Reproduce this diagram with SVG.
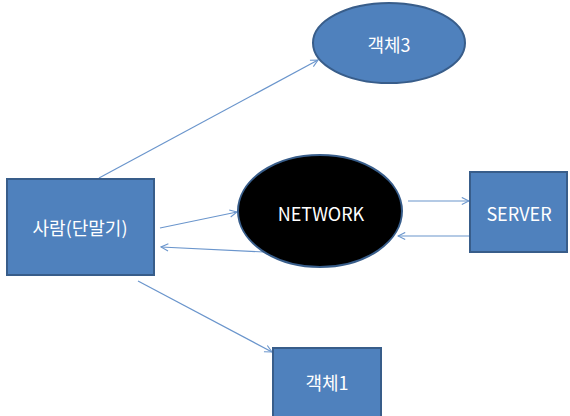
<svg xmlns="http://www.w3.org/2000/svg" width="570" height="416" viewBox="0 0 570 416">
<defs>
<style>
.shape{fill:#4F81BD;stroke:#385D8A;stroke-width:2}
.net{fill:#000000;stroke:#385D8A;stroke-width:2}
.lbl{fill:#FFFFFF;font-family:"Noto Sans CJK KR","Noto Sans",sans-serif;font-size:18px;text-anchor:middle;dominant-baseline:central}
.conn{stroke:#6A95CC;stroke-width:1.2;fill:none;marker-end:url(#arr)}
</style>
<marker id="arr" viewBox="0 0 10 10" refX="9" refY="5" markerWidth="9" markerHeight="9" markerUnits="userSpaceOnUse" orient="auto">
<path d="M1,1 L9,5 L1,9" fill="none" stroke="#6A95CC" stroke-width="1.2"/>
</marker>
</defs>
<rect width="570" height="416" fill="#FFFFFF"/>
<g id="connectors">
<line class="conn" x1="99" y1="178" x2="318" y2="60"/>
<line class="conn" x1="160" y1="228" x2="237" y2="212"/>
<line class="conn" x1="264" y1="252" x2="161" y2="247"/>
<line class="conn" x1="408" y1="201" x2="469" y2="201"/>
<line class="conn" x1="470" y1="236" x2="398" y2="236"/>
<line class="conn" x1="138" y1="281" x2="272" y2="352"/>
</g>
<g id="person">
<rect class="shape" x="7" y="179" width="147" height="96"/>
<text class="lbl" x="80" y="227">사람(단말기)</text>
</g>
<g id="network">
<ellipse class="net" cx="320" cy="211" rx="82" ry="56"/>
<text class="lbl" x="321" y="213">NETWORK</text>
</g>
<g id="server">
<rect class="shape" x="470" y="172" width="97" height="80"/>
<text class="lbl" x="519" y="213">SERVER</text>
</g>
<g id="object3">
<ellipse class="shape" cx="389" cy="43" rx="76" ry="40"/>
<text class="lbl" x="389" y="44">객체3</text>
</g>
<g id="object1">
<rect class="shape" x="273" y="348" width="108" height="72"/>
<text class="lbl" x="327" y="382">객체1</text>
</g>
</svg>
